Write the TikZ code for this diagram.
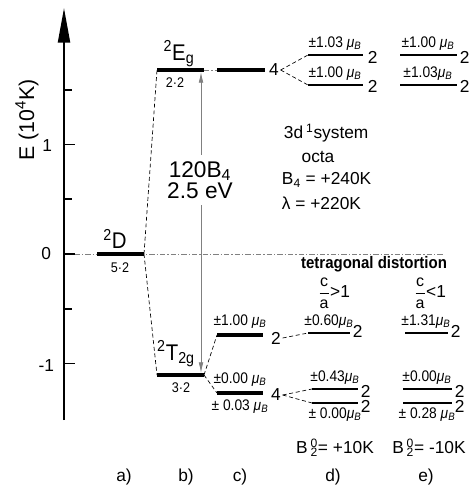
\documentclass[tikz,border=0pt]{standalone}
\usepackage{fontspec}
\setmainfont{Liberation Sans}
\newfontfamily\narrowsf[FakeStretch=0.9]{Liberation Sans}
\usetikzlibrary{arrows.meta}

\tikzset{every picture/.style={line width=0.75pt}}
\tikzset{
  level/.style={line width=2.4pt},
  sublevel/.style={line width=1.3pt},
  link/.style={dash pattern=on 3pt off 2pt, line width=0.5pt},
  zeroline/.style={color=gray, line width=0.6pt, dash pattern=on 4pt off 1.5pt on 1pt off 1.5pt},
  mulabel/.style={font=\narrowsf\fontsize{11.5}{12}\selectfont, inner sep=1pt},
  multlabel/.style={font=\narrowsf\fontsize{10.5}{12}\selectfont, inner sep=1pt},
  termlabel/.style={font=\narrowsf\fontsize{17}{20}\selectfont, inner sep=1pt},
  deglabel/.style={font=\fontsize{13}{14}\selectfont, inner sep=1pt},
}
\newcommand{\muB}{\textit{μ}\textsubscript{\textit{B}}}
\newcommand{\ratio}{$\displaystyle\frac{\textrm{\fontsize{12}{12}\selectfont c}}{\textrm{\fontsize{12}{12}\selectfont a}}$}
\newcommand{\btwo}{B\,\rlap{\textsuperscript{0}}\textsubscript{2}}

\begin{document}
\begin{tikzpicture}[x=0.75pt,y=0.75pt,yscale=-1,xscale=1, font=\fontsize{13}{15}\selectfont]
\useasboundingbox (0,0) rectangle (475,485);

% zero line
\coordinate (zl) at (64,254);
\coordinate (zr) at (443,254);
\draw [zeroline] (zl) -- (zr);

%Shape: Axis
\coordinate (axb) at (64,420);
\coordinate (axt) at (64,8);
\draw [line width=1.6pt, -{Triangle[length=26pt,width=9pt]}] (axb) -- (axt);
\foreach \e/\t in {1.5/8, 1/11, 0.5/8, 0/11, -0.5/8, -1/11}
  \draw [line width=1.4pt] (64,{254-109.5*\e}) -- ++(\t,0);

% Text Node
\node [anchor=east] (tick1) at (57,146) {1};
% Text Node
\node [anchor=east] (tick0) at (56,254) {0};
% Text Node
\node [anchor=east] (tickm1) at (59,366) {-1};
% Text Node
\node [rotate=90, font=\fontsize{16}{17}\selectfont] (elabel) at (27,120) {E (10\textsuperscript{4}K)};

%Shape: levels a) b)
\coordinate (Dl) at (97,254);  \coordinate (Dr) at (144,254);
\coordinate (Egl) at (157,70); \coordinate (Egr) at (204,70);
\coordinate (Tl) at (157,375); \coordinate (Tr) at (204,375);
\draw [level] (Dl) -- (Dr);
\draw [level] (Egl) -- (Egr);
\draw [level] (Tl) -- (Tr);
\draw [link] (Dr) -- (Egl);
\draw [link] (Dr) -- (Tl);

% Text Node
\node [termlabel] (Dterm) at (115,239) {\textsuperscript{2}D};
% Text Node
\node [multlabel] (Dmult) at (120,268) {5·2};
% Text Node
\node [termlabel] (Egterm) at (179,54) {\textsuperscript{2}E\textsubscript{g}};
% Text Node
\node [multlabel] (Egmult) at (175,83) {2·2};
% Text Node
\node [termlabel] (Tterm) at (176,354) {\textsuperscript{2}T\textsubscript{2g}};
% Text Node
\node [multlabel] (Tmult) at (181,388) {3·2};

%Shape: crystal field arrow
\coordinate (cfTop) at (201,72);
\coordinate (cfBot) at (201,373);
\draw [gray, line width=0.6pt, {Latex[length=8pt,width=3.5pt]}-{Latex[length=8pt,width=3.5pt]}] (cfTop) -- (cfBot);
% Text Node
\node [fill=white, align=center, inner ysep=5pt, font=\fontsize{17}{15.5}\selectfont] (cfsplit) at (200,180) {120B\textsubscript{4}\\2.5 eV};

%Shape: levels c)
\coordinate (cEl) at (217,70);  \coordinate (cEr) at (265,70);
\coordinate (cUl) at (217,335); \coordinate (cUr) at (263,335);
\coordinate (cLl) at (217,393); \coordinate (cLr) at (263,393);
\draw [zeroline] (Egr) -- (cEl);
\draw [level] (cEl) -- (cEr);
\draw [level] (cUl) -- (cUr);
\draw [level] (cLl) -- (cLr);
\draw [link] (Tr) -- (cUl);
\draw [link] (Tr) -- (cLl);
% Text Node
\node [deglabel] (cEdeg) at (274,70) {4};
% Text Node
\node [deglabel] (cUdeg) at (276,338) {2};
% Text Node
\node [deglabel] (cLdeg) at (276,395) {4};
% Text Node
\node [mulabel, anchor=south] (cUmu) at (240,330) {±1.00 \muB};
% Text Node
\node [mulabel, anchor=south] (cLmu) at (240,388) {±0.00 \muB};
% Text Node
\node [mulabel, anchor=north] (cLmub) at (240,398) {± 0.03 \muB};

%Shape: levels d) e), upper group
\coordinate (dAl) at (308,55); \coordinate (dAr) at (363,55);
\coordinate (dBl) at (308,85); \coordinate (dBr) at (363,85);
\coordinate (eAl) at (400,55); \coordinate (eAr) at (457,55);
\coordinate (eBl) at (400,85); \coordinate (eBr) at (457,85);
\draw [sublevel] (dAl) -- (dAr);
\draw [sublevel] (dBl) -- (dBr);
\draw [sublevel] (eAl) -- (eAr);
\draw [sublevel] (eBl) -- (eBr);
\draw [link] (cEdeg.east) -- (dAl);
\draw [link] (cEdeg.east) -- (dBl);
% Text Node
\node [mulabel, anchor=south] (dAmu) at (335,52) {±1.03 \muB};
% Text Node
\node [mulabel, anchor=south] (dBmu) at (335,82) {±1.00 \muB};
% Text Node
\node [mulabel, anchor=south] (eAmu) at (428,52) {±1.00 \muB};
% Text Node
\node [mulabel, anchor=south] (eBmu) at (428,82) {±1.03\muB};
% Text Node
\node [deglabel, anchor=west] (dAdeg) at (366,57) {2};
% Text Node
\node [deglabel, anchor=west] (dBdeg) at (366,86) {2};
% Text Node
\node [deglabel, anchor=west] (eAdeg) at (458,57) {2};
% Text Node
\node [deglabel, anchor=west] (eBdeg) at (458,86) {2};

%Shape: levels d) e), lower groups
\coordinate (dCl) at (308,333); \coordinate (dCr) at (350,333);
\coordinate (eCl) at (405,333); \coordinate (eCr) at (448,333);
\coordinate (dDl) at (312,389); \coordinate (dDr) at (358,389);
\coordinate (dEl) at (312,403); \coordinate (dEr) at (358,403);
\coordinate (eDl) at (403,389); \coordinate (eDr) at (452,389);
\coordinate (eEl) at (403,403); \coordinate (eEr) at (452,403);
\draw [sublevel] (dCl) -- (dCr);
\draw [sublevel] (eCl) -- (eCr);
\draw [sublevel] (dDl) -- (dDr);
\draw [sublevel] (dEl) -- (dEr);
\draw [sublevel] (eDl) -- (eDr);
\draw [sublevel] (eEl) -- (eEr);
\draw [link] (cUdeg.east) -- (dCl);
\draw [link] (cLdeg.east) -- (dDl);
\draw [link] (cLdeg.east) -- (dEl);
% Text Node
\node [mulabel, anchor=south] (dCmu) at (329,330) {±0.60\muB};
% Text Node
\node [mulabel, anchor=south] (eCmu) at (426,330) {±1.31\muB};
% Text Node
\node [mulabel, anchor=south] (dDmu) at (335,386) {±0.43\muB};
% Text Node
\node [mulabel, anchor=north] (dEmu) at (335,406) {± 0.00\muB};
% Text Node
\node [mulabel, anchor=south] (eDmu) at (427,386) {±0.00\muB};
% Text Node
\node [mulabel, anchor=north] (eEmu) at (427,406) {± 0.28 \muB};
% Text Node
\node [deglabel, anchor=west] (dCdeg) at (351,331) {2};
% Text Node
\node [deglabel, anchor=west] (eCdeg) at (449,331) {2};
% Text Node
\node [deglabel, anchor=west] (dDdeg) at (359,391) {2};
% Text Node
\node [deglabel, anchor=west] (dEdeg) at (359,406) {2};
% Text Node
\node [deglabel, anchor=west] (eDdeg) at (453,391) {2};
% Text Node
\node [deglabel, anchor=west] (eEdeg) at (453,406) {2};

% Text Node
\node [anchor=west] (sys) at (279,133) {3d\,\textsuperscript{1}system};
% Text Node
\node (octa) at (318,157) {octa};
% Text Node
\node [anchor=west] (bfour) at (277,180) {B\textsubscript{4} = +240K};
% Text Node
\node [anchor=west] (lam) at (277,203) {λ = +220K};
% Text Node
\node [font=\bfseries\narrowsf\fontsize{12.5}{14}\selectfont] (tetra) at (374,264) {tetragonal distortion};
% Text Node
\node (ratioA) at (334,293) {\ratio>1};
% Text Node
\node (ratioB) at (430,293) {\ratio<1};
% Text Node
\node (btwoA) at (335,448) {\btwo= +10K};
% Text Node
\node (btwoB) at (429,448) {\btwo= -10K};

% Text Node
\node (capA) at (124,477) {a)};
% Text Node
\node (capB) at (186,477) {b)};
% Text Node
\node (capC) at (240,477) {c)};
% Text Node
\node (capD) at (333,477) {d)};
% Text Node
\node (capE) at (426,477) {e)};

\end{tikzpicture}
\end{document}
